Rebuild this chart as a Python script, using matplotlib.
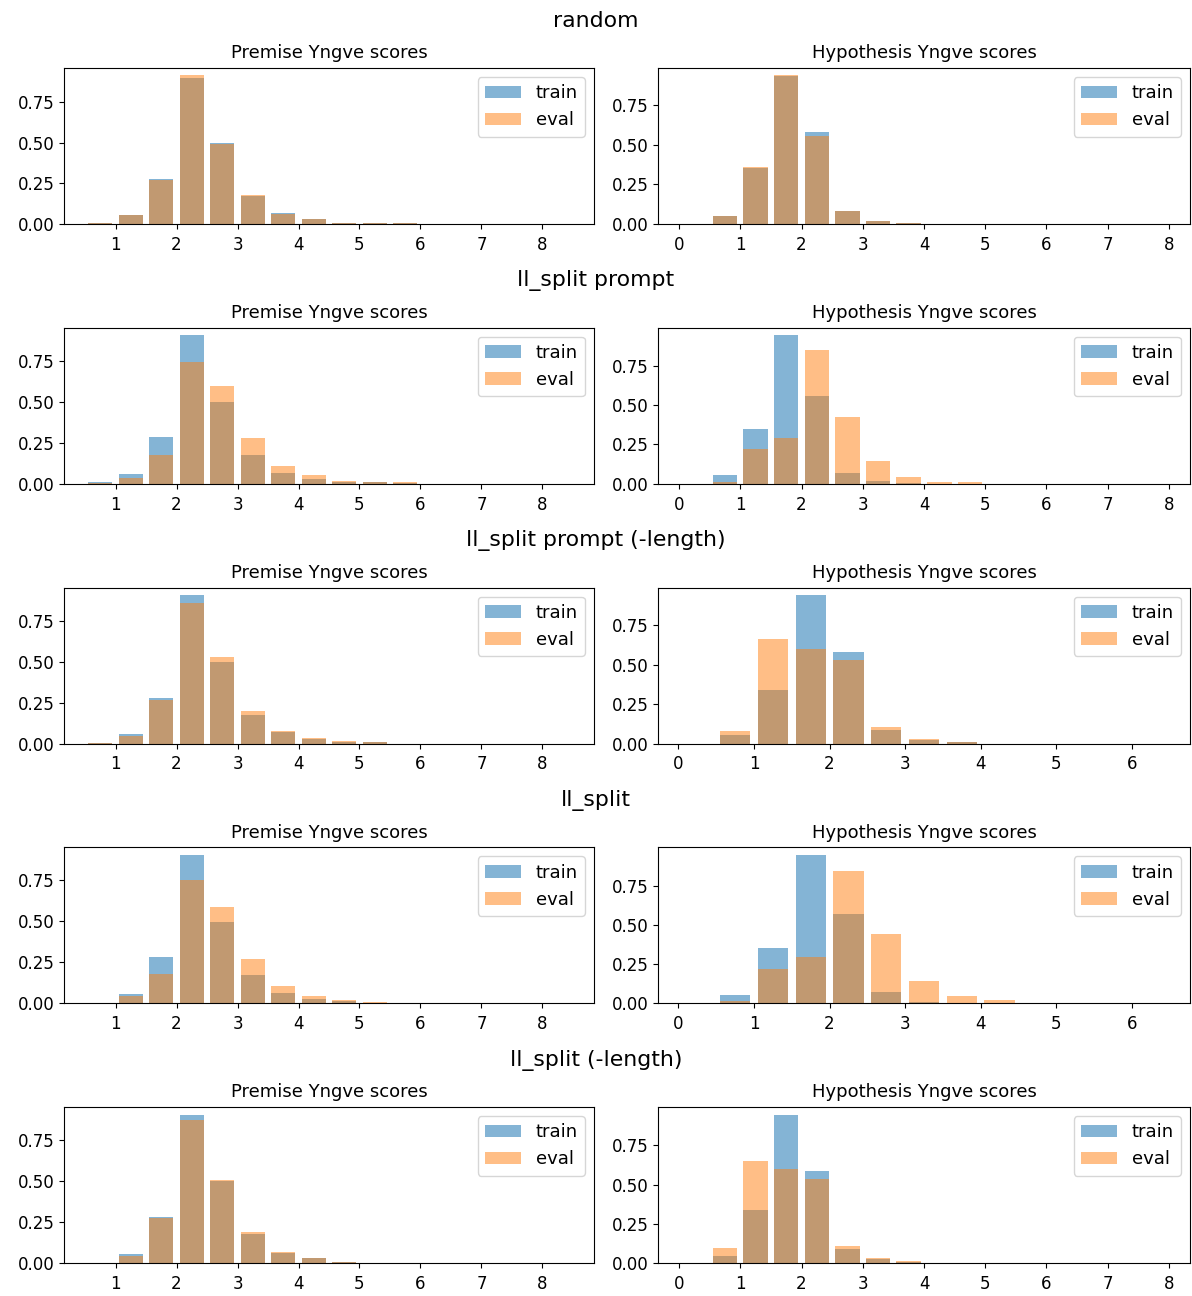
import matplotlib
matplotlib.use('Agg')
import matplotlib.pyplot as plt
import numpy as np
from matplotlib.ticker import MultipleLocator

# run names, one row of plots each
runs = ['random', 'll_split prompt', 'll_split prompt (-length)', 'll_split', 'll_split (-length)']

# premise bins: 0.5 .. 8.5, step 0.5
premise_edges = [0.5, 1.0, 1.5, 2.0, 2.5, 3.0, 3.5, 4.0, 4.5, 5.0, 5.5, 6.0, 6.5, 7.0, 7.5, 8.0, 8.5]
# hypothesis bins, step 0.5 from 0
hyp_edges_long = [0.0, 0.5, 1.0, 1.5, 2.0, 2.5, 3.0, 3.5, 4.0, 4.5, 5.0, 5.5, 6.0, 6.5, 7.0, 7.5, 8.0]
hyp_edges_short = [0.0, 0.5, 1.0, 1.5, 2.0, 2.5, 3.0, 3.5, 4.0, 4.5, 5.0, 5.5, 6.0, 6.5]

premise_train = [
	[0.006, 0.058, 0.277, 0.900, 0.499, 0.175, 0.066, 0.029, 0.008, 0.008, 0.006, 0, 0, 0, 0, 0],
	[0.010, 0.060, 0.288, 0.908, 0.501, 0.173, 0.068, 0.027, 0.010, 0.008, 0.002, 0, 0, 0, 0, 0],
	[0.002, 0.059, 0.279, 0.906, 0.500, 0.174, 0.068, 0.031, 0.012, 0.008, 0, 0, 0, 0, 0, 0],
	[0, 0.059, 0.281, 0.906, 0.494, 0.176, 0.061, 0.027, 0.012, 0.004, 0, 0, 0, 0, 0, 0],
	[0, 0.055, 0.283, 0.908, 0.504, 0.178, 0.064, 0.029, 0.010, 0, 0, 0, 0, 0, 0, 0],
]
premise_eval = [
	[0.006, 0.058, 0.273, 0.914, 0.493, 0.181, 0.060, 0.033, 0.008, 0.008, 0.006, 0, 0, 0, 0, 0],
	[0.002, 0.035, 0.173, 0.744, 0.598, 0.281, 0.109, 0.051, 0.016, 0.008, 0.008, 0, 0, 0, 0, 0],
	[0.006, 0.045, 0.264, 0.855, 0.531, 0.199, 0.074, 0.037, 0.018, 0.008, 0, 0, 0, 0, 0, 0],
	[0, 0.045, 0.182, 0.752, 0.588, 0.273, 0.109, 0.043, 0.020, 0.008, 0, 0, 0, 0, 0, 0],
	[0, 0.047, 0.275, 0.875, 0.510, 0.193, 0.070, 0.029, 0.010, 0, 0, 0, 0, 0, 0, 0],
]
hyp_train = [
	[0, 0.051, 0.355, 0.934, 0.579, 0.082, 0.017, 0.008, 0, 0, 0, 0, 0, 0, 0, 0],
	[0, 0.053, 0.350, 0.942, 0.558, 0.070, 0.019, 0.004, 0, 0, 0, 0, 0, 0, 0, 0],
	[0, 0.053, 0.341, 0.940, 0.577, 0.085, 0.021, 0.009, 0, 0, 0, 0, 0],
	[0, 0.054, 0.353, 0.947, 0.569, 0.073, 0.011, 0.002, 0, 0, 0, 0, 0],
	[0, 0.047, 0.337, 0.946, 0.585, 0.090, 0.026, 0.006, 0, 0, 0, 0, 0, 0, 0, 0],
]
hyp_eval = [
	[0, 0.051, 0.361, 0.938, 0.554, 0.082, 0.019, 0.008, 0, 0, 0, 0, 0, 0, 0, 0],
	[0, 0.009, 0.222, 0.290, 0.848, 0.424, 0.145, 0.045, 0.011, 0.011, 0, 0, 0, 0, 0, 0],
	[0, 0.077, 0.661, 0.601, 0.526, 0.102, 0.028, 0.011, 0, 0, 0, 0, 0],
	[0, 0.013, 0.218, 0.295, 0.843, 0.440, 0.140, 0.047, 0.022, 0, 0, 0, 0],
	[0, 0.099, 0.653, 0.602, 0.533, 0.107, 0.032, 0.011, 0, 0, 0, 0, 0, 0, 0, 0],
]
hyp_edges = [hyp_edges_long, hyp_edges_long, hyp_edges_short, hyp_edges_short, hyp_edges_long]

W, H = 1192, 1296
fig = plt.figure(figsize=(W / 100, H / 100), dpi=100)


def px_axes(x0, y0, x1, y1):
	# axes from pixel box (top-left origin)
	return fig.add_axes([x0 / W, 1 - y1 / H, (x1 - x0) / W, (y1 - y0) / H])


def draw(ax, edges, train, evals, title):
	edges = np.array(edges)
	centers = (edges[:-1] + edges[1:]) / 2
	ax.hist(centers, bins=edges, weights=train, rwidth=0.8, alpha=0.55, label='train')
	ax.hist(centers, bins=edges, weights=evals, rwidth=0.8, alpha=0.5, label='eval')
	ax.set_title(title, fontsize=13, pad=7)
	ax.xaxis.set_major_locator(MultipleLocator(1))
	ax.yaxis.set_major_locator(MultipleLocator(0.25))
	ax.tick_params(labelsize=12)
	ax.tick_params(axis='x', pad=5)
	ax.legend(loc='upper right', fontsize=13)


row_top = 68
pitch = 259.8
for i, run in enumerate(runs):
	top = row_top + i * pitch
	fig.text(0.5, 1 - (top - 47) / H, run, ha='center', va='center', fontsize=15.8)
	ax1 = px_axes(64, top, 594, top + 156)
	ax2 = px_axes(658, top, 1190, top + 156)
	draw(ax1, premise_edges, premise_train[i], premise_eval[i], 'Premise Yngve scores')
	draw(ax2, hyp_edges[i], hyp_train[i], hyp_eval[i], 'Hypothesis Yngve scores')

fig.savefig('out.png', dpi=100)
